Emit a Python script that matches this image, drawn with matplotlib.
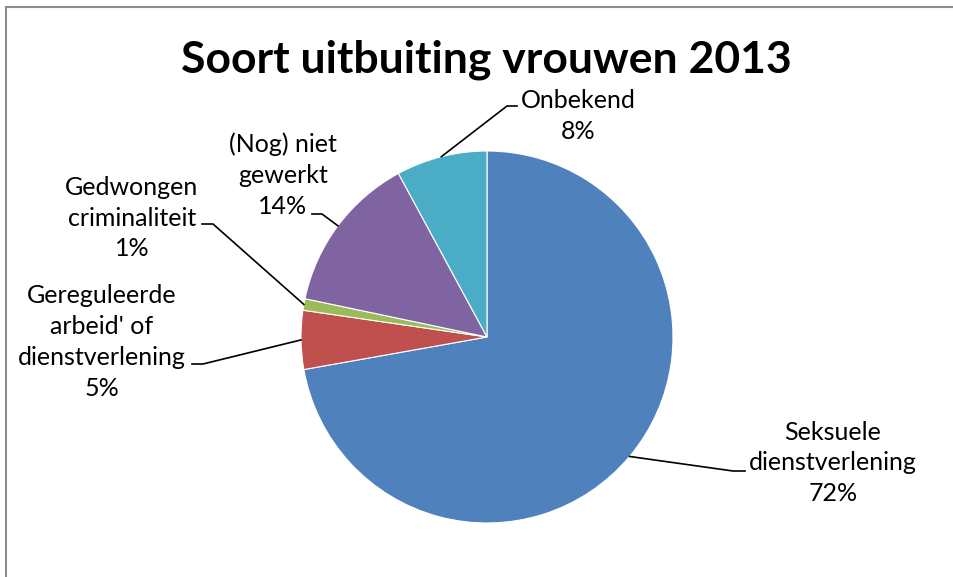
import matplotlib.pyplot as plt
from matplotlib.lines import Line2D
import numpy as np

plt.rcParams['font.family'] = ['Lato', 'DejaVu Sans']

# data
labels = ["Seksuele\ndienstverlening", "Gereguleerde\narbeid' of\ndienstverlening",
          "Gedwongen\ncriminaliteit", "(Nog) niet\ngewerkt", "Onbekend"]
values = [72.2, 5.1, 1.0, 13.8, 7.9]
colors = ['#4F81BD', '#C0504D', '#9BBB59', '#8064A2', '#4BACC6']

W, H = 954, 577
CX, CY, R = 487, 337, 186  # pie centre and radius in pixels

fig = plt.figure(figsize=(W / 100, H / 100), dpi=100)
ax = fig.add_axes([(CX - R) / W, (H - CY - R) / H, 2 * R / W, 2 * R / H])

wedges, _ = ax.pie(values, colors=colors, startangle=90, counterclock=False,
                   radius=1, wedgeprops=dict(edgecolor='white', linewidth=0.8))
ax.set_xlim(-1, 1)
ax.set_ylim(-1, 1)
ax.set_aspect('equal')
ax.axis('off')


def px(x, y):
    # pixel position -> data coords of the pie axes
    return (x - CX) / R, (CY - y) / R


# label layout: (elbow x, y), (end of horizontal), (text centre)
layout = [
    ((733, 471), (745, 471), (833, 463)),
    ((203, 364), (192, 364), (102, 342)),
    ((213, 224), (202, 224), (132, 218)),
    ((322, 214), (312, 214), (283, 175)),
    ((507, 106), (517, 106), (578, 116)),
]

for w, lab, val, (elbow, end, txt) in zip(wedges, labels, values, layout):
    mid = np.deg2rad((w.theta1 + w.theta2) / 2)
    sx, sy = np.cos(mid), np.sin(mid)
    ex, ey = px(*elbow)
    nx, ny = px(*end)
    ax.add_line(Line2D([sx, ex, nx], [sy, ey, ny], color='black', lw=1.2,
                       clip_on=False))
    tx, ty = px(*txt)
    ax.text(tx, ty, f"{lab}\n{round(val):.0f}%", ha='center', va='center',
            fontsize=18, linespacing=1.42, color='black')

fig.text(486 / W, 1 - 60 / H, "Soort uitbuiting vrouwen 2013", ha='center',
         va='center', fontsize=32, fontweight='bold')

# chart area border (cropped)
fig.add_artist(Line2D([6 / W, 1], [1 - 7 / H, 1 - 7 / H], color='#8c8c8c', lw=1.5))
fig.add_artist(Line2D([6 / W, 6 / W], [0, 1 - 7 / H], color='#8c8c8c', lw=1.5))

fig.savefig('out.png', dpi=100)
